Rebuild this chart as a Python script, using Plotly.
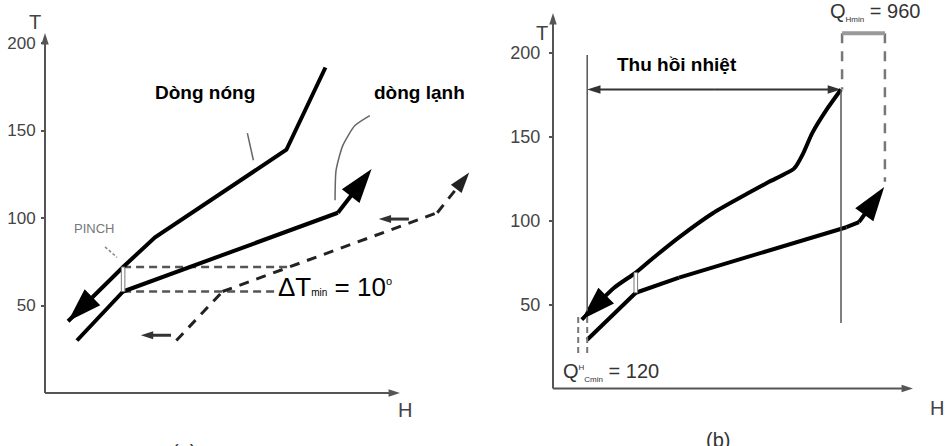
import plotly.graph_objects as go

# ---------------- data: panel (a) ----------------
hot_a_H = [79, 68, 31, 22, 6.5]
hot_a_T = [186, 139, 89, 72, 41]
cold_a_H = [9, 22, 82.5, 92]
cold_a_T = [30, 58, 103, 128]
shifted_a_H = [37, 50, 110.5, 119.5]
shifted_a_T = [30, 58, 103, 126]
pinch_a_H = 22
pinch_a_T = [58, 72]            # cold / hot temperature at the pinch
dt_lines_end_H = [66, 69]       # end of lower / upper dashed ΔT line
small_arrows_a = [  # (H_from, H_to, T)
    (35.5, 27.0, 33),
    (102.5, 94.0, 99.4),
]
dtmin = 10

# ---------------- data: panel (b) ----------------
hot_b_H = [80, 76, 72, 69.5, 67, 60, 54, 44.5, 35, 28, 23, 17, 8]
hot_b_T = [178, 166, 152, 140, 131, 123, 116, 104.5, 90, 78, 69, 60, 41]
cold_b_H = [9.5, 23, 35, 49, 68, 81.5, 85, 92]
cold_b_T = [29, 57, 66, 75, 87, 96, 99, 120]
pinch_b_H = 23
pinch_b_T = [57, 69]
q_cmin_H = [7, 9.5]             # cold utility gap (bottom)
q_hmin_H = [80.3, 92.2]         # hot utility gap (top)
q_cmin = 120
q_hmin = 960
tick_T = [50, 100, 150, 200]

# ---------------- geometry (pixels) ----------------
W, HT = 945, 446
SPLIT = 482
A_ox, A_oy, A_kx, A_ky = 45, 393, 3.55, 1.75
B_ox, B_oy, B_kx, B_ky = 553, 388.5, 3.6, 1.68

def xrange_(ox, kx, p0, p1):
    return [(p0 - ox) / kx, (p1 - ox) / kx]

def yrange_(oy, ky):
    return [(oy - HT) / ky, oy / ky]

FONT = "Liberation Sans, Arial, sans-serif"
GREY = "#555555"

fig = go.Figure()
ann = []
shapes = []

def line(xs, ys, ax, color="black", width=4, dash=None, shape="linear", head=0):
    xs, ys = list(xs), list(ys)
    n = len(xs)
    sym = ["circle"] * (n - 1) + ["arrow"]
    size = [0] * (n - 1) + [head]
    fig.add_trace(go.Scatter(
        x=xs, y=ys, mode="lines+markers" if head else "lines",
        xaxis="x" + ax, yaxis="y" + ax,
        line=dict(color=color, width=width, dash=dash, shape=shape, smoothing=0.6),
        marker=dict(symbol=sym, size=size, color=color, angleref="previous",
                    opacity=1, line=dict(width=0)),
        hoverinfo="skip", showlegend=False))

def text(x, y, s, ax, size=16, color="black", bold=False, xanchor="center"):
    r = "x" + ax if ax else "x"
    ry = "y" + ax if ax else "y"
    if bold:
        s = "<b>" + s + "</b>"
    ann.append(dict(x=x, y=y, xref=r, yref=ry, text=s, showarrow=False,
                    xanchor=xanchor, yanchor="middle",
                    font=dict(family=FONT, size=size, color=color)))

def tiny(s, px=9):
    return "<span style='font-size:%dpx'>%s</span>" % (px, s)

# ---------------- panel (a) ----------------
a = ""
line([0, 0], [0, (A_oy - 33) / A_ky], a, color=GREY, width=2, head=12)
line([0, (400 - A_ox) / A_kx], [0, 0], a, color=GREY, width=2, head=12)
# horizontal ΔT dashed lines
line([pinch_a_H, dt_lines_end_H[1]], [pinch_a_T[1]] * 2, a, color="#555", width=2.5, dash="8px,5px")
line([pinch_a_H, dt_lines_end_H[0]], [pinch_a_T[0]] * 2, a, color="#555", width=2.5, dash="8px,5px")
# shifted cold curve (dashed)
line(shifted_a_H, shifted_a_T, a, color="#222", width=3, dash="10px,8px", head=22)
# hot & cold curves
line(hot_a_H, hot_a_T, a, head=36)
line(cold_a_H, cold_a_T, a, head=36)
# small direction arrows
for h0, h1, t in small_arrows_a:
    line([h0, h1], [t, t], a, color="#333", width=3, head=13)
# pinch marker
shapes.append(dict(type="rect", xref="x", yref="y", x0=pinch_a_H - 0.5, x1=pinch_a_H + 0.5,
                   y0=pinch_a_T[0], y1=pinch_a_T[1], fillcolor="white",
                   line=dict(color="#777", width=1), layer="above"))
# leaders
line([16.9, 20.3], [83.5, 77.5], a, color="#888", width=1.5, dash="3px,2px")
line([57.0, 58.7], [148.5, 133], a, color="#666", width=1.5)
line([91.5, 87.3, 83.9, 82.0, 81.7], [158.5, 152.8, 141.5, 127.3, 110.2], a,
     color="#666", width=1.5, shape="spline")
# labels
text(-2.8, 212, "T", a, size=20, color="#444")
text(101.5, -9.5, "H", a, size=20, color="#444")
text(13.8, 94, "PINCH", a, size=13, color="#777")
text(45, 171.5, "Dòng nóng", a, size=19, bold=True)
text(105.5, 171.5, "dòng lạnh", a, size=19, bold=True)
text(65.0, 60.5, "ΔT" + tiny("min", 10) + " = %d" % dtmin + "<sup>" + tiny("o", 11) + "</sup>",
     a, size=26, xanchor="left")

# ---------------- panel (b) ----------------
b = "2"
line([0, 0], [0, (B_oy - 13) / B_ky], b, color=GREY, width=2, head=12)
line([0, (913 - B_ox) / B_kx], [0, 0], b, color=GREY, width=2, head=12)
# vertical guide lines
shapes.append(dict(type="line", xref="x2", yref="y2", x0=cold_b_H[0], x1=cold_b_H[0],
                   y0=198.5, y1=46, line=dict(color="#555", width=1.5)))
shapes.append(dict(type="line", xref="x2", yref="y2", x0=hot_b_H[0], x1=hot_b_H[0],
                   y0=hot_b_T[0], y1=39, line=dict(color="#555", width=1.5)))
# utility dashed guides
for hh in q_cmin_H:
    shapes.append(dict(type="line", xref="x2", yref="y2", x0=hh, x1=hh, y0=42.5, y1=19,
                       line=dict(color="#777", width=2, dash="6px,4px")))
shapes.append(dict(type="line", xref="x2", yref="y2", x0=q_hmin_H[0], x1=q_hmin_H[0],
                   y0=211.5, y1=hot_b_T[0], line=dict(color="#777", width=2.5, dash="10px,8px")))
shapes.append(dict(type="line", xref="x2", yref="y2", x0=q_hmin_H[1], x1=q_hmin_H[1],
                   y0=211.5, y1=cold_b_T[-1] + 3, line=dict(color="#777", width=2.5, dash="10px,8px")))
shapes.append(dict(type="line", xref="x2", yref="y2", x0=q_hmin_H[0], x1=q_hmin_H[1],
                   y0=211.5, y1=211.5, line=dict(color="#999", width=4)))
# heat recovery double arrow (drawn from its middle outwards)
mid = (cold_b_H[0] + hot_b_H[0]) / 2
line([mid, hot_b_H[0]], [hot_b_T[0]] * 2, b, color="#333", width=2, head=14)
line([mid, cold_b_H[0]], [hot_b_T[0]] * 2, b, color="#333", width=2, head=14)
# curves
line(hot_b_H, hot_b_T, b, head=36, shape="spline")
line(cold_b_H, cold_b_T, b, head=36)
shapes.append(dict(type="rect", xref="x2", yref="y2", x0=pinch_b_H - 0.5, x1=pinch_b_H + 0.5,
                   y0=pinch_b_T[0], y1=pinch_b_T[1], fillcolor="white",
                   line=dict(color="#777", width=1), layer="above"))
# labels
text(-3.1, 211.5, "T", b, size=20, color="#444")
text(106.8, -11.5, "H", b, size=20, color="#444")
text(34.5, 193, "Thu hồi nhiệt", b, size=19, bold=True)
text(76.4, 224, "Q<sub>" + tiny("Hmin", 8) + "</sub> = %d" % q_hmin, b, size=20, color="#333",
     xanchor="left")
text(2.3, 10, "Q<sup>" + tiny("H", 8) + "</sup><sub>" + tiny("Cmin", 8) + "</sub> = %d" % q_cmin,
     b, size=20, color="#333", xanchor="left")

ann.append(dict(x=170 / W, y=0, xref="paper", yref="paper", text="(a)", showarrow=False,
                yanchor="top", yshift=7, font=dict(family=FONT, size=20, color="#333")))
ann.append(dict(x=732 / W, y=0, xref="paper", yref="paper", text="(b)", showarrow=False,
                yanchor="top", yshift=19, font=dict(family=FONT, size=20, color="#333")))

axis_common = dict(showgrid=False, zeroline=False, showline=False)
fig.update_layout(
    width=W, height=HT, margin=dict(l=0, r=0, t=0, b=0),
    paper_bgcolor="white", plot_bgcolor="white", showlegend=False,
    xaxis=dict(domain=[0, SPLIT / W], range=xrange_(A_ox, A_kx, 0, SPLIT), anchor="y",
               showticklabels=False, ticks="", **axis_common),
    yaxis=dict(domain=[0, 1], range=yrange_(A_oy, A_ky), anchor="free", position=A_ox / W,
               tickvals=tick_T, ticks="outside", ticklen=4, tickwidth=2, tickcolor=GREY,
               ticklabelstandoff=2,
               tickfont=dict(family=FONT, size=17, color="#444"), **axis_common),
    xaxis2=dict(domain=[SPLIT / W, 1], range=xrange_(B_ox, B_kx, SPLIT, W), anchor="y2",
                showticklabels=False, ticks="", **axis_common),
    yaxis2=dict(domain=[0, 1], range=yrange_(B_oy, B_ky), anchor="free", position=B_ox / W,
                tickvals=tick_T, ticks="outside", ticklen=4, tickwidth=2, tickcolor=GREY,
                ticklabelstandoff=5,
                tickfont=dict(family=FONT, size=18, color="#444"), **axis_common),
    annotations=ann, shapes=shapes,
)
fig.write_html("out.html", config={"displayModeBar": False},
               post_script="document.body.style.margin='0';document.body.style.padding='0';"
                           "document.body.style.overflow='hidden';")
